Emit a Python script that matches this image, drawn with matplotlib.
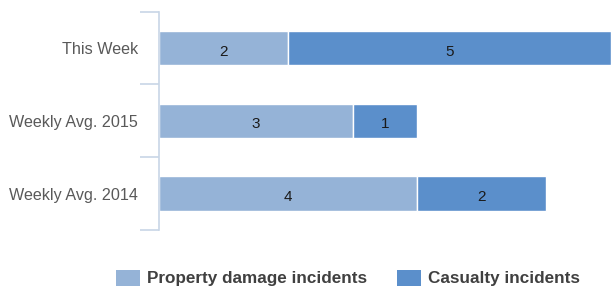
import matplotlib
matplotlib.use("Agg")
import matplotlib.pyplot as plt
from matplotlib.patches import Patch

categories = ["This Week", "Weekly Avg. 2015", "Weekly Avg. 2014"]
property_damage = [2, 3, 4]
casualty = [5, 1, 2]
series_names = ["Property damage incidents", "Casualty incidents"]
colors = ["#95b3d7", "#5b8fcb"]

plt.rcParams['font.family'] = ['Liberation Sans', 'DejaVu Sans']

fig = plt.figure(figsize=(6.11, 2.90), dpi=100)
ax = fig.add_axes([159/611, (290-230)/290, (610.5-159)/611, (230-11.5)/290])

y = list(range(len(categories)))
h = 0.47
ax.barh(y, property_damage, height=h, color=colors[0], edgecolor="white", linewidth=1)
ax.barh(y, casualty, left=property_damage, height=h, color=colors[1], edgecolor="white", linewidth=1)

for i in y:
    ax.text(property_damage[i] / 2, i + 0.05, str(property_damage[i]), ha="center", va="center",
            fontsize=11, color="#1a1a1a")
    ax.text(property_damage[i] + casualty[i] / 2, i + 0.05, str(casualty[i]), ha="center", va="center",
            fontsize=11, color="#1a1a1a")

ax.set_xlim(0, 7)
ax.set_ylim(2.5, -0.5)
ax.set_yticks(y)
ax.set_yticklabels(categories, fontsize=11.6, color="#595959")
ax.set_yticks([-0.5, 0.5, 1.5, 2.5], minor=True)
ax.tick_params(axis="y", which="major", length=0, pad=15)
ax.tick_params(axis="y", which="minor", length=14, width=1.2, color="#c8d6e6")
ax.set_xticks([])
for s in ["top", "right", "bottom"]:
    ax.spines[s].set_visible(False)
ax.spines["left"].set_color("#c8d6e6")
ax.spines["left"].set_linewidth(1.2)

handles = [Patch(facecolor=colors[0], label=series_names[0]),
           Patch(facecolor=colors[1], label=series_names[1])]
leg = fig.legend(handles=handles, loc="center", bbox_to_anchor=(348/611, 1 - 278/290), ncol=2,
                 frameon=False, handlelength=1.4, handleheight=1.06, handletextpad=0.4,
                 columnspacing=1.75, borderpad=0, prop={"weight": "bold", "size": 12.3})
for t in leg.get_texts():
    t.set_color("#404040")

fig.savefig("out.png", dpi=100)
